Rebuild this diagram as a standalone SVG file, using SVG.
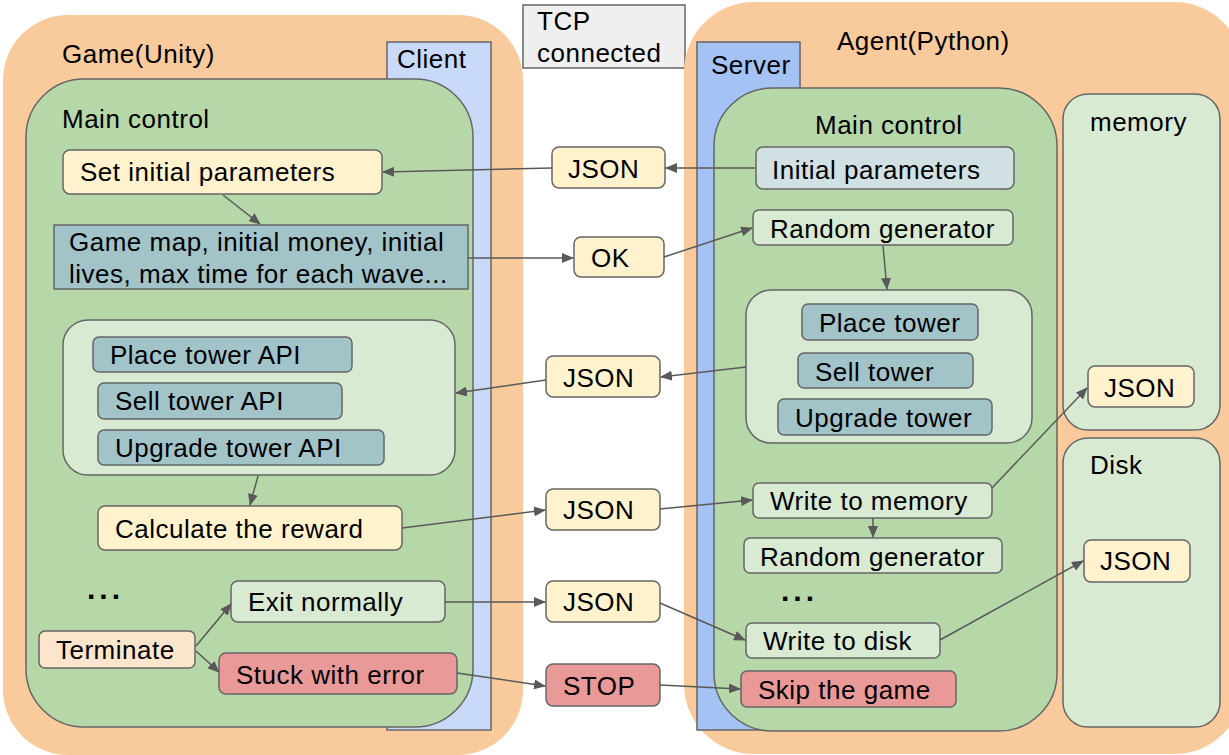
<svg xmlns="http://www.w3.org/2000/svg" width="1229" height="755" viewBox="0 0 1229 755">
  <style>
    text { font-family: "Liberation Sans", Arial, sans-serif; font-size: 26px; letter-spacing: 0.5px; fill: #000; }
    .box { stroke: #666; stroke-width: 1.5; }
    .yellow { fill: #fff2cc; }
    .teal { fill: #a2c4c9; }
    .pale { fill: #d0e0e3; }
    .lgreen { fill: #d9ead3; }
    .red { fill: #ea9999; }
    .peach { fill: #fce5cd; }
    .green { fill: #b6d7a8; }
    .orange { fill: #f9cb9c; }
    .conn line { stroke: #595959; stroke-width: 1.5; marker-end: url(#arrow); }
    .dots { font-weight: bold; font-size: 30px; letter-spacing: 4px; }
  </style>
  <defs>
    <marker id="arrow" markerWidth="12" markerHeight="10" refX="11" refY="5" orient="auto" markerUnits="userSpaceOnUse">
      <path d="M0,0 L12,5 L0,10 Z" fill="#595959"/>
    </marker>
  </defs>
  <rect width="1229" height="755" fill="#fff"/>

  <!-- Game side -->
  <g id="game">
    <rect class="orange" x="3" y="15" width="520" height="740" rx="65"/>
    <text x="62" y="63">Game(Unity)</text>
  </g>
  <g id="client">
    <rect class="box" x="387" y="42" width="104" height="688" fill="#c9daf8"/>
    <text x="397" y="68">Client</text>
  </g>
  <g id="game-main">
    <rect class="box green" x="26" y="79" width="447" height="648" rx="58"/>
    <text x="62" y="128">Main control</text>
  </g>
  <g id="set-initial">
    <rect class="box yellow" x="63" y="150" width="319" height="44" rx="7"/>
    <text x="80" y="181">Set initial parameters</text>
  </g>
  <g id="game-map">
    <rect class="box teal" x="54" y="225" width="414" height="64"/>
    <text x="69" y="251">Game map, initial money, initial</text>
    <text x="69" y="283">lives, max time for each wave...</text>
  </g>
  <g id="api-group">
    <rect class="box lgreen" x="63" y="320" width="392" height="155" rx="25"/>
  </g>
  <g id="place-api">
    <rect class="box teal" x="93" y="337" width="259" height="35" rx="6"/>
    <text x="110" y="364">Place tower API</text>
  </g>
  <g id="sell-api">
    <rect class="box teal" x="98" y="383" width="244" height="36" rx="6"/>
    <text x="115" y="410">Sell tower API</text>
  </g>
  <g id="upgrade-api">
    <rect class="box teal" x="98" y="430" width="286" height="35" rx="6"/>
    <text x="115" y="457">Upgrade tower API</text>
  </g>
  <g id="reward">
    <rect class="box yellow" x="98" y="506" width="304" height="44" rx="7"/>
    <text x="115" y="538">Calculate the reward</text>
  </g>
  <g id="game-dots">
    <text class="dots" x="87" y="599">...</text>
  </g>
  <g id="exit-normally">
    <rect class="box lgreen" x="231" y="581" width="214" height="41" rx="7"/>
    <text x="248" y="611">Exit normally</text>
  </g>
  <g id="terminate">
    <rect class="box peach" x="39" y="631" width="156" height="37" rx="6"/>
    <text x="56" y="659">Terminate</text>
  </g>
  <g id="stuck">
    <rect class="box red" x="219" y="653" width="238" height="41" rx="7"/>
    <text x="236" y="684">Stuck with error</text>
  </g>

  <!-- Wire messages -->
  <g id="tcp">
    <rect class="box" x="523" y="5" width="162" height="63" fill="#efefef"/>
    <text x="537" y="30">TCP</text>
    <text x="537" y="62">connected</text>
  </g>
  <g id="msg-json1">
    <rect class="box yellow" x="552" y="147" width="113" height="41" rx="7"/>
    <text x="568" y="178">JSON</text>
  </g>
  <g id="msg-ok">
    <rect class="box yellow" x="574" y="237" width="90" height="40" rx="7"/>
    <text x="591" y="267">OK</text>
  </g>
  <g id="msg-json2">
    <rect class="box yellow" x="546" y="356" width="114" height="41" rx="7"/>
    <text x="563" y="387">JSON</text>
  </g>
  <g id="msg-json3">
    <rect class="box yellow" x="546" y="489" width="114" height="41" rx="7"/>
    <text x="563" y="519">JSON</text>
  </g>
  <g id="msg-json4">
    <rect class="box yellow" x="546" y="581" width="114" height="41" rx="7"/>
    <text x="563" y="611">JSON</text>
  </g>
  <g id="msg-stop">
    <rect class="box red" x="546" y="664" width="114" height="42" rx="7"/>
    <text x="563" y="695">STOP</text>
  </g>

  <!-- Agent side -->
  <g id="agent">
    <rect class="orange" x="684" y="2" width="560" height="752" rx="70"/>
    <text x="837" y="50">Agent(Python)</text>
  </g>
  <g id="server">
    <rect class="box" x="697" y="42" width="103" height="688" fill="#a4c2f4"/>
    <text x="711" y="74">Server</text>
  </g>
  <g id="agent-main">
    <rect class="box green" x="714" y="88" width="343" height="643" rx="58"/>
    <text x="815" y="134">Main control</text>
  </g>
  <g id="memory">
    <rect class="box lgreen" x="1063" y="94" width="157" height="336" rx="25"/>
    <text x="1090" y="131">memory</text>
  </g>
  <g id="disk">
    <rect class="box lgreen" x="1063" y="438" width="157" height="289" rx="25"/>
    <text x="1090" y="474">Disk</text>
  </g>
  <g id="initial-params">
    <rect class="box pale" x="756" y="147" width="258" height="42" rx="7"/>
    <text x="772" y="179">Initial parameters</text>
  </g>
  <g id="random-gen1">
    <rect class="box lgreen" x="753" y="210" width="260" height="35" rx="6"/>
    <text x="770" y="238">Random generator</text>
  </g>
  <g id="action-group">
    <rect class="box lgreen" x="746" y="290" width="286" height="153" rx="25"/>
  </g>
  <g id="place-tower">
    <rect class="box teal" x="802" y="304" width="176" height="36" rx="6"/>
    <text x="819" y="332">Place tower</text>
  </g>
  <g id="sell-tower">
    <rect class="box teal" x="798" y="353" width="175" height="35" rx="6"/>
    <text x="815" y="381">Sell tower</text>
  </g>
  <g id="upgrade-tower">
    <rect class="box teal" x="778" y="399" width="214" height="36" rx="6"/>
    <text x="795" y="427">Upgrade tower</text>
  </g>
  <g id="write-memory">
    <rect class="box lgreen" x="753" y="483" width="239" height="35" rx="6"/>
    <text x="770" y="510">Write to memory</text>
  </g>
  <g id="random-gen2">
    <rect class="box lgreen" x="744" y="538" width="258" height="35" rx="6"/>
    <text x="760" y="566">Random generator</text>
  </g>
  <g id="agent-dots">
    <text class="dots" x="781" y="601">...</text>
  </g>
  <g id="write-disk">
    <rect class="box lgreen" x="746" y="623" width="194" height="35" rx="6"/>
    <text x="763" y="650">Write to disk</text>
  </g>
  <g id="skip-game">
    <rect class="box red" x="741" y="671" width="215" height="36" rx="6"/>
    <text x="758" y="699">Skip the game</text>
  </g>
  <g id="memory-json">
    <rect class="box yellow" x="1088" y="366" width="106" height="41" rx="7"/>
    <text x="1104" y="397">JSON</text>
  </g>
  <g id="disk-json">
    <rect class="box yellow" x="1084" y="540" width="106" height="42" rx="7"/>
    <text x="1100" y="570">JSON</text>
  </g>

  <!-- Connectors -->
  <g id="connectors" class="conn">
    <line x1="223" y1="195" x2="260" y2="224"/>
    <line x1="755" y1="168" x2="666" y2="168"/>
    <line x1="552" y1="168" x2="383" y2="172"/>
    <line x1="468" y1="258" x2="573" y2="258"/>
    <line x1="664" y1="257" x2="752" y2="228"/>
    <line x1="883" y1="246" x2="887" y2="289"/>
    <line x1="746" y1="367" x2="661" y2="377"/>
    <line x1="546" y1="380" x2="456" y2="393"/>
    <line x1="258" y1="476" x2="250" y2="505"/>
    <line x1="402" y1="528" x2="545" y2="510"/>
    <line x1="660" y1="509" x2="752" y2="500"/>
    <line x1="992" y1="488" x2="1087" y2="388"/>
    <line x1="873" y1="518" x2="873" y2="537"/>
    <line x1="196" y1="646" x2="231" y2="604"/>
    <line x1="196" y1="651" x2="219" y2="672"/>
    <line x1="445" y1="602" x2="545" y2="602"/>
    <line x1="660" y1="603" x2="745" y2="640"/>
    <line x1="940" y1="640" x2="1083" y2="561"/>
    <line x1="457" y1="673" x2="545" y2="686"/>
    <line x1="660" y1="685" x2="740" y2="689"/>
  </g>
</svg>
